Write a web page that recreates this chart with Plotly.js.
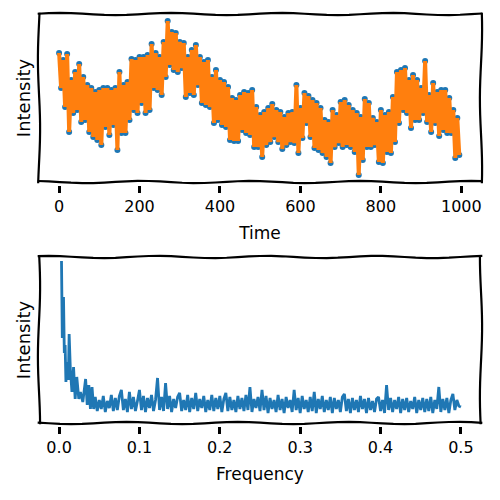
<!DOCTYPE html>
<html>
<head>
<meta charset="utf-8">
<script src="https://cdn.plot.ly/plotly-3.0.1.min.js"></script>
<style>html,body{margin:0;padding:0;background:#fff;}#chart{width:500px;height:500px;}</style>
</head>
<body>
<div id="chart"></div>
<script>
// ---- Top panel: time series, read as upper / lower swing every 10 time steps ----
const timeStep = 5;
const upperSwing = [12.7,12.0,12.6,10.0,10.8,11.6,10.3,9.5,9.2,8.8,
  9.0,9.2,9.2,9.0,9.2,10.8,9.5,9.8,12.1,12.0,
  12.3,12.3,12.5,13.6,12.7,12.3,13.8,15.9,14.8,14.7,
  13.8,13.7,12.3,13.0,13.5,12.3,11.8,12.0,10.3,11.0,
  10.0,9.8,9.3,8.2,8.0,8.5,8.8,8.7,9.0,7.3,
  6.5,6.8,7.2,7.6,7.0,6.8,6.3,6.7,6.8,9.5,
  7.2,8.7,8.4,8.0,7.7,7.2,6.0,5.8,7.0,6.5,
  7.8,8.0,7.5,7.0,6.7,6.3,8.1,7.7,6.2,5.8,
  7.0,6.5,6.8,8.3,10.8,11.0,11.2,10.0,10.5,10.0,
  9.2,11.9,8.5,9.7,8.8,9.0,9.0,8.2,7.0,6.2];
const lowerSwing = [9.2,7.3,4.8,6.7,7.0,5.8,6.0,4.8,4.3,4.0,
  3.5,5.3,4.5,5.5,3.0,4.7,4.7,6.0,7.0,6.7,
  7.7,6.7,7.0,9.2,9.0,8.5,10.3,11.5,11.0,10.8,
  11.2,8.3,8.7,8.5,9.5,7.7,7.5,7.3,5.7,6.0,
  5.5,5.3,4.0,3.9,3.9,5.0,4.7,4.5,3.3,3.3,
  2.3,3.5,3.8,4.3,3.8,3.1,3.5,3.8,3.7,2.7,
  4.2,5.7,4.3,3.2,3.0,2.7,2.3,1.7,3.3,3.7,
  3.3,3.5,3.3,2.8,0.5,2.0,3.3,3.3,3.5,1.8,
  1.7,2.8,2.7,3.8,5.7,7.0,6.7,5.2,6.0,6.0,
  6.7,5.8,4.8,5.7,4.4,5.0,4.7,4.7,2.2,2.5];

// ---- Bottom panel: spectrum ----
const lowFreq  = [0.003,0.004,0.0055,0.0065,0.0075,0.0085,0.010,0.0115,0.0125,0.014,0.016,0.018,0.020,0.022,0.0245,0.0265,0.0295,0.033,0.035,0.037,0.039,0.041,0.043];
const lowPower = [15.9,8.2,12.3,6.7,7.5,3.8,5.8,4.0,8.6,5.1,2.8,5.3,2.1,4.3,2.1,2.8,1.8,4.1,1.5,3.5,1.1,3.3,1.1];
const highFreqStart = 0.045, highFreqStep = 0.0025;
const highPower = [2.3,0.9,2.0,1.1,2.4,0.8,1.9,1.2,2.5,0.9,
  2.2,1.0,2.4,3.0,1.0,2.1,0.8,2.8,1.1,2.3,
  0.9,1.9,3.0,1.0,2.4,0.8,2.2,1.2,2.5,0.9,
  2.0,4.2,1.0,2.3,0.9,3.7,1.1,2.4,0.8,2.1,
  1.2,2.3,2.7,0.9,2.0,1.0,2.5,0.8,2.2,1.1,
  2.7,0.9,2.1,1.2,2.4,0.8,2.0,1.0,2.5,0.9,
  2.2,1.1,2.4,0.8,2.1,2.7,0.9,2.3,1.0,2.0,
  0.8,2.4,1.1,2.2,0.9,2.5,1.0,3.3,0.8,2.1,
  1.2,2.3,0.9,3.0,1.0,2.4,0.7,2.2,1.1,2.0,
  0.8,2.5,1.0,2.1,0.7,2.3,1.2,2.0,0.8,3.0,
  1.0,2.2,0.7,2.4,1.1,2.0,0.8,2.3,0.9,2.8,
  0.7,2.1,1.1,2.4,0.8,2.0,1.0,2.3,0.7,2.2,
  1.1,2.0,0.8,2.3,2.6,0.9,2.1,0.7,2.2,1.0,
  2.0,0.8,2.4,1.1,2.1,0.7,2.2,1.0,1.9,0.8,
  2.1,2.3,0.9,2.0,0.7,3.5,1.0,2.2,0.8,2.0,
  1.1,2.3,0.7,2.1,1.0,2.2,0.8,1.9,1.1,2.3,
  0.7,2.0,1.0,2.2,0.8,2.1,0.9,2.3,0.7,2.0,
  1.1,3.3,0.8,2.1,1.0,2.2,0.7,2.0,2.6,1.0,
  2.0,1.4,1.3];

const xTicksTop = [0,200,400,600,800,1000];
const xTicksBottom = [0,0.1,0.2,0.3,0.4,0.5];
const xTickTextBottom = ['0.0','0.1','0.2','0.3','0.4','0.5'];

// build series
const time = [], intensity = [];
for (let i = 0; i < upperSwing.length; i++) {
  time.push(2*i*timeStep); intensity.push(upperSwing[i]);
  time.push((2*i+1)*timeStep); intensity.push(lowerSwing[i]);
}
const freq = lowFreq.slice(), power = lowPower.slice();
for (let k = 0; k < highPower.length; k++) {
  freq.push(+(highFreqStart + k*highFreqStep).toFixed(4));
  power.push(highPower[k]);
}

const BLUE = '#1f77b4', ORANGE = '#ff7f0e';
const FONT = 'DejaVu Sans, sans-serif';

const traces = [
  {x: time, y: intensity, type: 'scatter', mode: 'markers', xaxis: 'x', yaxis: 'y',
   marker: {color: BLUE, size: 6}, hoverinfo: 'skip'},
  {x: time, y: intensity, type: 'scatter', mode: 'lines', xaxis: 'x', yaxis: 'y',
   line: {color: ORANGE, width: 4}, hoverinfo: 'skip'},
  {x: freq, y: power, type: 'scatter', mode: 'lines', xaxis: 'x2', yaxis: 'y2',
   line: {color: BLUE, width: 2.8}, hoverinfo: 'skip'}
];

// slightly wobbly hand-drawn boxes (decoration only)
const PW = 442, PH = 412;
function wobblyBox(y0, y1, seed) {
  const A = 1.1;
  function hline(y, phase, xa, xb) {
    let p = [];
    for (let s = 0; s <= 40; s++) {
      const x = xa + (xb - xa) * s / 40;
      const yy = y + (A * Math.sin(2*Math.PI*x*PW/110 + phase)) / PH;
      p.push([x, yy]);
    }
    return p;
  }
  function vline(x, phase, ya, yb) {
    let p = [];
    for (let s = 0; s <= 20; s++) {
      const y = ya + (yb - ya) * s / 20;
      const xx = x + (A * Math.sin(2*Math.PI*y*PH/140 + phase)) / PW;
      p.push([xx, y]);
    }
    return p;
  }
  const lines = [hline(y1, seed, -0.003, 1.003), hline(y0, seed+1.7, -0.003, 1.003),
                 vline(0, seed+0.5, y0 - 0.003, y1 + 0.003), vline(1, seed+2.3, y0 - 0.003, y1 + 0.003)];
  return lines.map(pts => ({
    type: 'path', xref: 'paper', yref: 'paper',
    path: 'M' + pts.map(p => p[0].toFixed(5) + ',' + p[1].toFixed(5)).join('L'),
    line: {color: 'black', width: 2.2}
  }));
}

const topDom = [0.5922, 1.0], botDom = [0.0073, 0.4102];

const axisCommon = {showgrid: false, zeroline: false, showline: false,
  ticks: 'outside', ticklen: 7, tickwidth: 3, tickcolor: 'black',
  tickfont: {family: FONT, size: 16, color: 'black'}};

const layout = {
  width: 500, height: 500,
  margin: {l: 39, r: 19, t: 14, b: 74},
  paper_bgcolor: 'white', plot_bgcolor: 'white',
  showlegend: false,
  font: {family: FONT, color: 'black'},
  xaxis: Object.assign({}, axisCommon, {
    domain: [0, 1], anchor: 'free', position: 0.585,
    range: [-49.95, 1048.95], tickvals: xTicksTop,
    title: {text: 'Time', font: {family: FONT, size: 17, color: 'black'}, standoff: 11}
  }),
  yaxis: {domain: topDom, range: [-0.2, 16.6], showgrid: false, zeroline: false,
    showline: false, showticklabels: false, ticks: '',
    title: {text: 'Intensity', font: {family: FONT, size: 18, color: 'black'}, standoff: 2}},
  xaxis2: Object.assign({}, axisCommon, {
    domain: [0, 1], anchor: 'free', position: 0,
    range: [-0.025, 0.525], tickvals: xTicksBottom, ticktext: xTickTextBottom,
    title: {text: 'Frequency', font: {family: FONT, size: 17, color: 'black'}, standoff: 11}
  }),
  yaxis2: {domain: botDom, range: [-0.3, 16.3], showgrid: false, zeroline: false,
    showline: false, showticklabels: false, ticks: '',
    title: {text: 'Intensity', font: {family: FONT, size: 18, color: 'black'}, standoff: 2}},
  shapes: wobblyBox(topDom[0], topDom[1], 0.3).concat(wobblyBox(botDom[0], botDom[1], 1.1))
};

Plotly.newPlot('chart', traces, layout, {staticPlot: true, displayModeBar: false});
</script>
</body>
</html>
